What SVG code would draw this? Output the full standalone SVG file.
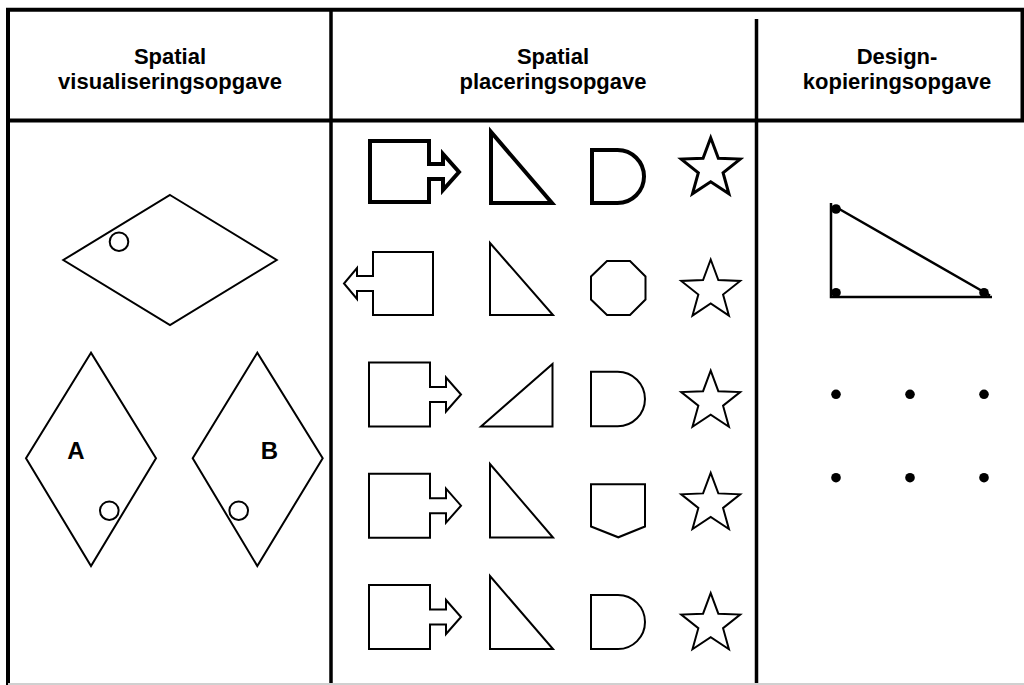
<svg xmlns="http://www.w3.org/2000/svg" xmlns:xlink="http://www.w3.org/1999/xlink" width="1024" height="685" viewBox="0 0 1024 685">
<style>
.frame{stroke:#000;stroke-width:4;fill:none}
.div{stroke:#000;stroke-width:3.5;fill:none}
.sh{fill:#fff;stroke:#000;stroke-width:2;stroke-linejoin:miter}
.thick{stroke-width:4}
.hd{font-family:"Liberation Sans",Arial,Helvetica,sans-serif;font-weight:bold;font-size:22px;text-anchor:middle;fill:#000}
.lbl{font-family:"Liberation Sans",Arial,Helvetica,sans-serif;font-weight:bold;font-size:24px;text-anchor:middle;fill:#000}
.dot{fill:#000}
</style>
<defs>
<path id="arrR" d="M0,-32 H61 V-7.5 H77 V-17 L92,0 L77,17 V7.5 H61 V32 H0 Z"/>
<path id="star" d="M0,-31 L7.64,-10.52 L29.48,-9.58 L12.36,4.02 L18.22,25.08 L0,13 L-18.22,25.08 L-12.36,4.02 L-29.48,-9.58 L-7.64,-10.52 Z"/>
</defs>
<rect width="1024" height="685" fill="#fff"/>
<g id="frame">
<line class="frame" x1="6" y1="9.7" x2="1024" y2="9.7"/>
<line class="frame" x1="6" y1="120.5" x2="1024" y2="120.5"/>
<line class="frame" x1="8" y1="8" x2="8" y2="685"/>
<line class="frame" x1="1022.5" y1="8" x2="1022.5" y2="122"/>
<line class="div" x1="331" y1="8" x2="331" y2="685"/>
<line class="div" x1="756.5" y1="19" x2="756.5" y2="685"/>
<line x1="8" y1="684" x2="1024" y2="684" stroke="#d0d0d0" stroke-width="2"/>
</g>
<g id="header-1"><text class="hd" x="170" y="63.5">Spatial</text><text class="hd" x="170" y="89">visualiseringsopgave</text></g>
<g id="header-2"><text class="hd" x="553" y="63.5">Spatial</text><text class="hd" x="553" y="89">placeringsopgave</text></g>
<g id="header-3"><text class="hd" x="897" y="63.5">Design-</text><text class="hd" x="897" y="89">kopieringsopgave</text></g>
<g id="visualisation">
<polygon class="sh" points="170,195 276.7,260 170,325 63.3,260"/>
<circle class="sh" cx="119" cy="241.7" r="9.3"/>
<polygon class="sh" points="91,352.7 26,458.3 91,566 156,458.3"/>
<circle class="sh" cx="109.3" cy="510.7" r="9.3"/>
<text class="lbl" x="76" y="458.5">A</text>
<polygon class="sh" points="257.3,352.7 192.7,458.3 257.3,566 322.7,458.3"/>
<circle class="sh" cx="238.7" cy="510.7" r="9.3"/>
<text class="lbl" x="269.3" y="458.5">B</text>
</g>
<g id="placement">
<g id="row-1" class="sh thick">
<path d="M370,141 H429 V164 H443 V154 L459,172 L443,190 V179 H429 V202 H370 Z"/>
<polygon points="491,132 491,203 552,203"/>
<path d="M592,150 H617.5 A26.5,26.5 0 0 1 617.5,203 H592 Z"/>
<use xlink:href="#star" x="710.7" y="168.7" stroke-width="3"/>
</g>
<g id="row-2" class="sh">
<path d="M373,252 H433 V315 H373 V291 H357 V299 L344,283.5 L357,268 V276 H373 Z"/>
<polygon points="490,243 490,315 553,315"/>
<polygon points="607,261 630,261 645.5,276.5 645.5,299.5 630,315 607,315 591,299.5 591,276.5"/>
<use xlink:href="#star" x="710.7" y="290.5"/>
</g>
<g id="row-3" class="sh">
<use xlink:href="#arrR" x="369" y="394.5"/>
<polygon points="481,426.5 552.5,426.5 552.5,364"/>
<path d="M591,371.7 H617.7 A27.3,27.3 0 0 1 617.7,426.3 H591 Z"/>
<use xlink:href="#star" x="710.7" y="401.7"/>
</g>
<g id="row-4" class="sh">
<use xlink:href="#arrR" x="369" y="505.7"/>
<polygon points="490,464 490,537.5 553,537.5"/>
<polygon points="591,484.3 645,484.3 645,526.5 618.3,537.3 591,526.5"/>
<use xlink:href="#star" x="710.7" y="503.9"/>
</g>
<g id="row-5" class="sh">
<use xlink:href="#arrR" x="369" y="617"/>
<polygon points="490,576 490,649 553,649"/>
<path d="M591,595 H618 A27,27 0 0 1 618,649 H591 Z"/>
<use xlink:href="#star" x="710.7" y="624.2"/>
</g>
</g>
<g id="design-copy">
<path d="M831,203 V297 H992 M834,206 L990,295.5" fill="none" stroke="#000" stroke-width="2.5"/>
<circle class="dot" cx="836" cy="209" r="4.8"/>
<circle class="dot" cx="836" cy="292.7" r="4.8"/>
<circle class="dot" cx="984" cy="292.7" r="4.8"/>
<circle class="dot" cx="836" cy="394.3" r="4.8"/>
<circle class="dot" cx="910" cy="394.3" r="4.8"/>
<circle class="dot" cx="984" cy="394.3" r="4.8"/>
<circle class="dot" cx="836" cy="477.7" r="4.8"/>
<circle class="dot" cx="910" cy="477.7" r="4.8"/>
<circle class="dot" cx="984" cy="477.7" r="4.8"/>
</g>
</svg>
